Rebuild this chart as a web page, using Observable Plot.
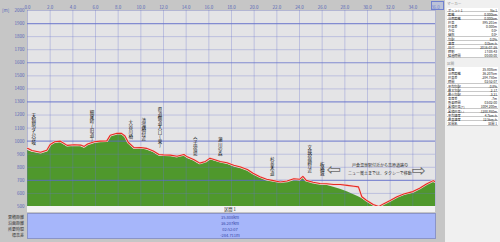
<!DOCTYPE html>
<html><head><meta charset="utf-8">
<script src="https://cdn.jsdelivr.net/npm/d3@7"></script>
<script src="https://cdn.jsdelivr.net/npm/@observablehq/plot@0.6"></script>
<style>
html,body{margin:0;padding:0;}
body{width:500px;height:242px;overflow:hidden;background:#c6c6c6;position:relative;font-family:"Noto Sans CJK JP","Noto Sans",sans-serif;}
#chart{position:absolute;left:0;top:0;}
.ov{position:absolute;white-space:nowrap;line-height:1;}
#panel{position:absolute;left:445px;top:0;width:55px;height:242px;background:#f0f0f0;}
.hdr{position:absolute;left:2px;font-size:3.6px;color:#8a8a8a;}
.row{position:absolute;left:2px;width:51px;height:3.6px;background:#fff;border-bottom:0.5px solid #c8c8c8;font-size:3.2px;color:#222;}
.row span{position:absolute;top:0;}
.row .l{left:1px;}
.row .v{right:1px;}
</style></head>
<body>
<div id="chart"></div>
<script>
// ---- data ----
const dist  = [0.0,0.4,1.15,1.7,2.0,2.4,2.9,3.5,4.1,4.7,5.0,5.3,5.9,6.4,7.0,7.3,7.9,8.3,8.6,8.9,9.4,10.0,10.5,11.1,11.6,12.0,12.6,13.2,13.8,14.1,14.7,15.2,15.7,16.1,16.6,17.0,17.6,18.2,18.8,19.4,19.9,20.5,21.1,21.7,22.3,22.9,23.5,24.0,24.3,24.6,25.2,25.8,26.4,27.0,27.6,28.2,28.8,29.2,29.5,29.9,30.5,31.0,31.4,32.0,32.6,33.2,34.0,34.6,35.2,35.8,36.0];
const trackElev = [945,928,915,930,975,995,1000,968,972,970,960,978,995,1000,1002,1045,1060,1060,1040,990,950,952,945,925,898,895,893,885,898,880,858,832,845,870,856,845,835,815,802,783,755,728,708,698,688,695,712,708,730,700,685,676,674,668,668,662,655,650,575,548,515,500,520,546,575,596,614,640,672,698,688];
const terrainElev = [928,918,905,918,962,985,990,958,962,960,945,968,985,992,994,1035,1052,1052,1030,980,940,942,935,915,888,885,884,876,888,870,848,822,835,860,846,836,826,806,793,774,746,720,700,690,680,687,703,700,715,692,678,668,662,648,632,612,590,575,562,540,515,500,515,540,565,585,606,632,664,690,684];

const xTicks = [0,2,4,6,8,10,12,14,16,18,20,22,24,26,28,30,32,34,36];
const yTicks = [500,600,700,800,900,1000,1100,1200,1300,1400,1500,1600,1700,1800,1900,2000];
const yMajor = [700,1000,1300,1600,1900];

const markerNames = ["天狗原ダム分岐","細尾峠(旧道)","大谷川橋","清滝橋付近","県道側道入口(東)","今市宿場","瀬川の森","杉並木道","文挾宿跡付近","板橋城"];
const markerDist  = [0.56,5.7,9.1,10.25,11.7,14.8,17.0,21.6,24.9,26.0];
const markerTop   = [1208,1231,1154,1169,1254,1023,1023,869,962,831];

const noteText = "戸倉温泉駅付近から高原道路の\nニュー楽土までは、タクシーで移動";
const noteDist = [31.1];
const noteElev = [850];
const arrowGlyphs = ["⇦","⇨"];
const arrowDist = [27.0,34.5];
const arrowElev = [783,776];

const sumLabels = ["累積距離","沿面距離","所要時間","標高差"];
const sumValues = ["35.808km","36.207km","02:52:07","-284.711m"];

const markerRows = [["ポイント1","No.1"],["距離","0.000km"],["沿面距離","0.000km"],["標高","895.201m"],["標高差","0.000m"],["方位","0.0°"],["傾斜","0.0°"],["勾配","0.0%"],["速度","0.0km/h"],["日付","2016/07/26"],["時刻","17:08:43"],["経過時間","00:00:00"]];
const sectionRows = [["距離","35.808km"],["沿面距離","36.207km"],["標高差","-284.750m"],["時間","02:52:07"],["平均勾配","-0.8%"],["最大勾配","-2.17"],["最小勾配","-3.21"],["高度差","-7m"],["所要時間","03:02:00"],["累積標高(+)","1004.200m"],["累積標高(-)","-1288.950m"],["平均速度","4.7km/h"],["最高速度","12.5km/h"],["区間名","区間 1"]];

// ---- tables for the library ----
const track = dist.map((d,i)=>({d, e: trackElev[i]}));
const terrain = dist.map((d,i)=>({d, e: terrainElev[i]}));
const markers = markerNames.map((n,i)=>({name:n, d:markerDist[i], top:markerTop[i]}));
const notes = [{t:noteText, d:noteDist[0], e:noteElev[0]}];
const arrows = arrowGlyphs.map((g,i)=>({g, d:arrowDist[i], e:arrowElev[i]}));
const yMinor = yTicks.filter(v=>!yMajor.includes(v));

const chart = Plot.plot({
  width: 500, height: 242,
  marginLeft: 27, marginRight: 65, marginTop: 10, marginBottom: 36,
  style: {background: "transparent", fontFamily: "'Noto Sans CJK JP', 'Noto Sans', sans-serif", overflow: "visible"},
  x: {domain: [0, 36]},
  y: {domain: [500, 2000]},
  marks: [
    Plot.frame({fill: "#e4e4e6"}),
    Plot.areaY(terrain, {x: "d", y1: d => 500, y2: "e", fill: "#4f982c", curve: "linear", clip: true}),
    Plot.ruleY(yMinor, {stroke: "#6a74cc", strokeOpacity: 0.45, strokeWidth: 0.7}),
    Plot.ruleY(yMajor, {stroke: "#5a66c8", strokeOpacity: 0.7, strokeWidth: 1.2}),
    Plot.ruleX(xTicks, {stroke: "#6a74cc", strokeOpacity: 0.45, strokeWidth: 0.7}),
    Plot.line(track, {x: "d", y: "e", stroke: "#f2d2d2", strokeWidth: 2.4, clip: true}),
    Plot.line(track, {x: "d", y: "e", stroke: "#e62a22", strokeWidth: 1.1, clip: true}),
    Plot.text(markers, {x: "d", y: "top", text: d => [...d.name].join("\n"), lineAnchor: "top", lineHeight: 1, fontSize: 4.5, fill: "#151515"}),
    Plot.text(notes, {x: "d", y: "e", text: "t", lineHeight: 2.1, fontSize: 4, fill: "#303030", lineAnchor: "top"}),
    Plot.text(arrows, {x: "d", y: "e", text: "g", fontSize: 17, fill: "#6a6a6a", fontFamily: "DejaVu Sans"}),
    Plot.axisX(xTicks, {anchor: "top", tickSize: 0, tickPadding: 2, tickFormat: d => d.toFixed(1), fontSize: 4.5, fill: "#5866b8", label: null}),
    Plot.axisY(yTicks, {anchor: "left", tickSize: 0, tickPadding: 3, tickFormat: d => String(d), fontSize: 4.5, fill: "#5866b8", label: null})
  ]
});
document.getElementById("chart").appendChild(chart);

// ---- overlays (HTML) ----
function div(cls, style, text){ const e=document.createElement("div"); e.className=cls; e.style.cssText=style; if(text!==undefined) e.textContent=text; document.body.appendChild(e); return e; }
div("ov","left:2px;top:8px;font-size:4.5px;color:#5866b8;","[m]");
div("ov","left:431px;top:0.5px;width:11px;height:7px;border:0.6px solid #7080d0;background:rgba(170,185,250,0.35);");
// bottom section strip and blue panel
div("ov","left:27px;top:206px;width:408px;height:6px;background:#f3f3f3;");
div("ov","left:220px;top:207px;width:20px;text-align:center;font-size:4.2px;color:#222;","区間 1");
div("ov","left:27px;top:212.5px;width:407px;height:24px;background:#a6b6fa;border:0.6px solid #8a94c8;");
sumLabels.forEach((s,i)=>{
  div("ov",`left:1px;width:23px;text-align:right;top:${214.5+i*6}px;font-size:4px;color:#333;`, s);
  div("ov",`left:205px;width:50px;text-align:center;top:${214.5+i*6}px;font-size:4px;color:#3444a6;`, sumValues[i]);
});
// right panel
const panel = document.createElement("div"); panel.id="panel"; document.body.appendChild(panel);
function hdr(t, top){ const h=document.createElement("div"); h.className="hdr"; h.style.top=top+"px"; h.textContent=t; panel.appendChild(h); }
function rows(arr, top){ arr.forEach((r,i)=>{ const e=document.createElement("div"); e.className="row"; e.style.top=(top+i*4.15)+"px"; e.innerHTML=`<span class="l">${r[0]}</span><span class="v">${r[1]}</span>`; panel.appendChild(e); }); }
hdr("マーカー", 1);
rows(markerRows, 7.5);
hdr("区間", 60.5);
rows(sectionRows, 67);
</script>
</body></html>
